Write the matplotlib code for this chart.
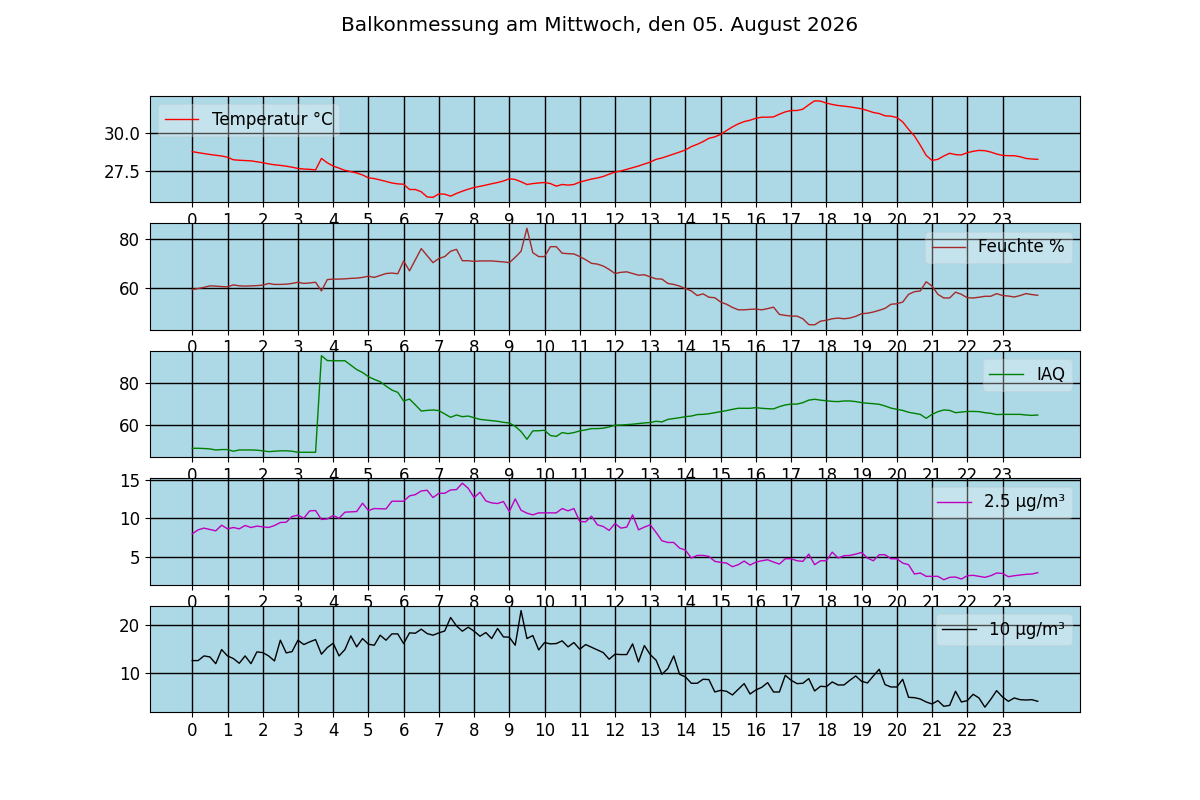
import numpy as np
import matplotlib
matplotlib.use("Agg")
import matplotlib.pyplot as plt

plt.rcParams['font.size'] = 12

title = "Balkonmessung am Mittwoch, den 05. August 2026"
hour_ticks = list(range(24))

temp = [
    28.79, 28.72, 28.66, 28.60, 28.55, 28.50, 28.42, 28.25, 28.22, 28.20,
    28.18, 28.12, 28.06, 27.98, 27.92, 27.88, 27.83, 27.76, 27.68, 27.64,
    27.62, 27.58, 28.34, 28.05, 27.84, 27.70, 27.55, 27.47, 27.38, 27.25,
    27.06, 27.01, 26.92, 26.82, 26.72, 26.66, 26.64, 26.29, 26.29, 26.14,
    25.80, 25.77, 26.00, 25.98, 25.85, 26.03, 26.18, 26.31, 26.42, 26.50,
    26.58, 26.67, 26.75, 26.85, 27.00, 26.95, 26.80, 26.62, 26.68, 26.72,
    26.75, 26.68, 26.51, 26.62, 26.58, 26.62, 26.78, 26.88, 26.98, 27.05,
    27.15, 27.30, 27.44, 27.51, 27.62, 27.73, 27.84, 27.97, 28.10, 28.28,
    28.37, 28.50, 28.63, 28.76, 28.90, 29.12, 29.27, 29.45, 29.67, 29.76,
    29.93, 30.18, 30.42, 30.62, 30.77, 30.86, 30.99, 31.06, 31.06, 31.08,
    31.26, 31.41, 31.50, 31.50, 31.59, 31.88, 32.14, 32.12, 31.99, 31.90,
    31.83, 31.79, 31.74, 31.68, 31.61, 31.50, 31.37, 31.30, 31.15, 31.13,
    31.04, 30.75, 30.26, 29.82, 29.21, 28.54, 28.21, 28.28, 28.50, 28.68,
    28.59, 28.57, 28.72, 28.81, 28.87, 28.85, 28.76, 28.63, 28.54, 28.52,
    28.52, 28.45, 28.34, 28.30, 28.28]

hum = [
    59.2, 59.6, 60.1, 60.7, 60.6, 60.4, 60.3, 61.1, 60.7, 60.6,
    60.7, 60.8, 61.0, 61.7, 61.3, 61.3, 61.4, 61.7, 62.2, 61.7,
    61.9, 62.2, 58.6, 63.3, 63.5, 63.5, 63.6, 63.8, 63.9, 64.2,
    64.7, 64.2, 65.0, 65.8, 66.0, 65.7, 71.0, 66.9, 71.5, 76.1,
    73.2, 70.3, 72.0, 72.8, 75.0, 75.8, 71.1, 71.1, 70.8, 71.0,
    71.0, 71.0, 70.8, 70.6, 70.3, 72.5, 75.0, 84.5, 74.4, 72.8,
    72.8, 76.9, 76.9, 74.2, 74.0, 73.9, 72.8, 71.5, 70.0, 69.7,
    68.9, 67.5, 65.8, 66.3, 66.5, 65.8, 65.1, 65.3, 64.4, 63.6,
    63.5, 61.7, 61.3, 60.6, 59.6, 58.6, 56.7, 57.4, 56.0, 55.8,
    54.0, 53.1, 51.8, 50.8, 50.8, 51.0, 51.1, 50.8, 51.3, 51.9,
    48.9, 48.5, 48.2, 48.2, 47.1, 44.7, 44.6, 46.1, 46.5, 47.1,
    47.4, 47.1, 47.4, 48.1, 49.2, 49.4, 49.9, 50.6, 51.4, 53.1,
    53.3, 54.0, 57.2, 58.3, 58.6, 62.4, 60.6, 57.2, 55.7, 55.7,
    58.1, 57.2, 55.8, 55.7, 56.0, 56.4, 56.4, 57.5, 56.7, 56.5,
    56.1, 56.7, 57.5, 57.1, 56.8]

iaq = [
    48.7, 48.7, 48.6, 48.4, 47.9, 48.1, 48.1, 47.3, 47.9, 47.9,
    47.9, 47.8, 47.5, 47.1, 47.3, 47.5, 47.5, 47.3, 46.8, 46.8,
    46.8, 46.8, 92.9, 90.6, 90.5, 90.5, 90.5, 88.4, 86.3, 84.9,
    82.9, 81.6, 80.5, 78.4, 76.5, 75.4, 71.3, 72.2, 69.4, 66.5,
    66.8, 67.0, 66.7, 65.1, 63.5, 64.6, 63.8, 64.1, 63.3, 62.5,
    62.2, 61.9, 61.6, 61.1, 60.8, 59.2, 56.7, 53.0, 57.0, 57.1,
    57.3, 54.8, 54.4, 56.2, 55.7, 56.2, 57.0, 57.5, 58.1, 58.1,
    58.3, 58.9, 59.7, 59.8, 60.0, 60.2, 60.5, 60.8, 61.0, 61.6,
    61.3, 62.5, 62.9, 63.3, 63.8, 64.1, 64.8, 64.9, 65.2, 65.7,
    66.2, 66.7, 67.3, 67.8, 67.8, 67.8, 68.1, 67.8, 67.6, 67.5,
    68.6, 69.4, 69.8, 69.8, 70.5, 71.7, 72.1, 71.7, 71.4, 71.1,
    71.0, 71.3, 71.3, 71.0, 70.5, 70.2, 70.0, 69.7, 68.9, 67.9,
    67.3, 66.8, 65.9, 65.4, 64.9, 63.0, 64.9, 66.2, 67.0, 66.8,
    65.7, 66.0, 66.3, 66.3, 66.2, 65.7, 65.4, 64.8, 64.9, 64.9,
    64.9, 64.9, 64.6, 64.4, 64.6]

pm25 = [
    7.97, 8.49, 8.71, 8.53, 8.36, 9.09, 8.62, 8.79, 8.62, 9.05,
    8.79, 8.97, 8.88, 8.79, 9.05, 9.44, 9.48, 10.22, 10.39, 10.00,
    10.95, 10.99, 9.83, 9.91, 10.34, 10.00, 10.78, 10.82, 10.86, 11.94,
    10.99, 11.25, 11.22, 11.20, 12.20, 12.20, 12.20, 12.89, 13.06, 13.53,
    13.62, 12.67, 13.23, 13.23, 13.66, 13.71, 14.54, 13.88, 12.67, 13.36,
    12.24, 11.98, 11.90, 12.16, 10.86, 12.50, 11.03, 10.65, 10.43, 10.69,
    10.69, 10.69, 10.69, 11.25, 10.95, 11.25, 9.57, 9.53, 10.26, 9.14,
    8.92, 8.41, 9.31, 8.71, 8.84, 10.43, 8.49, 8.84, 9.14, 8.15,
    7.07, 6.85, 6.85, 6.12, 5.86, 4.83, 5.17, 5.17, 5.04, 4.40,
    4.27, 4.18, 3.71, 3.97, 4.44, 3.92, 4.31, 4.48, 4.61, 4.31,
    4.05, 4.74, 4.74, 4.48, 4.40, 5.34, 3.97, 4.48, 4.48, 5.60,
    4.83, 5.13, 5.17, 5.34, 5.56, 4.83, 4.48, 5.26, 5.26, 4.74,
    4.74, 4.18, 3.97, 2.76, 2.89, 2.46, 2.46, 2.46, 2.02, 2.33,
    2.37, 2.11, 2.54, 2.59, 2.46, 2.33, 2.54, 2.89, 2.84, 2.41,
    2.54, 2.63, 2.72, 2.76, 2.93]

pm10 = [
    12.64, 12.64, 13.61, 13.40, 12.00, 14.93, 13.61, 13.06, 12.08, 13.61,
    12.00, 14.44, 14.30, 13.61, 12.57, 16.88, 14.24, 14.51, 16.88, 15.97,
    16.53, 17.01, 13.96, 15.35, 16.25, 13.61, 14.93, 17.78, 15.49, 17.22,
    16.04, 15.83, 17.92, 16.88, 18.19, 18.19, 16.18, 18.40, 18.33, 19.17,
    18.26, 17.92, 18.40, 18.80, 21.60, 19.86, 18.75, 19.58, 18.75, 17.71,
    18.47, 17.22, 19.31, 17.57, 17.50, 15.83, 23.03, 17.22, 17.85, 14.86,
    16.39, 16.11, 16.18, 16.74, 15.49, 16.39, 15.00, 15.97, 15.42, 14.86,
    14.30, 12.92, 13.96, 13.89, 13.89, 16.11, 12.36, 15.76, 13.89, 12.71,
    9.79, 10.97, 13.61, 9.79, 9.24, 7.92, 7.92, 8.75, 8.68, 6.11,
    6.46, 6.25, 5.49, 6.67, 7.85, 5.69, 6.53, 7.08, 8.06, 6.11,
    6.11, 9.58, 8.54, 7.85, 7.92, 8.89, 6.32, 7.29, 7.22, 8.19,
    7.57, 7.57, 8.54, 9.44, 8.33, 7.99, 9.44, 10.83, 7.64, 7.15,
    7.15, 8.75, 5.00, 4.93, 4.65, 4.03, 3.61, 4.31, 3.13, 3.33,
    6.25, 4.03, 4.31, 5.63, 4.86, 2.95, 4.58, 6.39, 5.07, 4.17,
    4.86, 4.51, 4.44, 4.51, 4.17]

series = [
    (temp, "Temperatur °C", "red", [27.5, 30.0], "upper left"),
    (hum, "Feuchte %", "brown", [60, 80], "upper right"),
    (iaq, "IAQ", "green", [60, 80], "upper right"),
    (pm25, "2.5 µg/m³", "m", [5, 10, 15], "upper right"),
    (pm10, "10 µg/m³", "black", [10, 20], "upper right"),
]

hours = np.arange(len(temp)) / 6.0

fig, axes = plt.subplots(5, 1, figsize=(12, 8), dpi=100)
fig.suptitle(title)

for ax, (vals, label, color, yt, loc) in zip(axes, series):
    ax.set_facecolor("lightblue")
    ax.plot(hours, vals, color=color, linewidth=1, label=label)
    ax.set_xticks(hour_ticks)
    ax.set_yticks(yt)
    ax.grid(True, color="black", linewidth=1)
    ax.legend(loc=loc, framealpha=0.3)

fig.savefig("out.png")
